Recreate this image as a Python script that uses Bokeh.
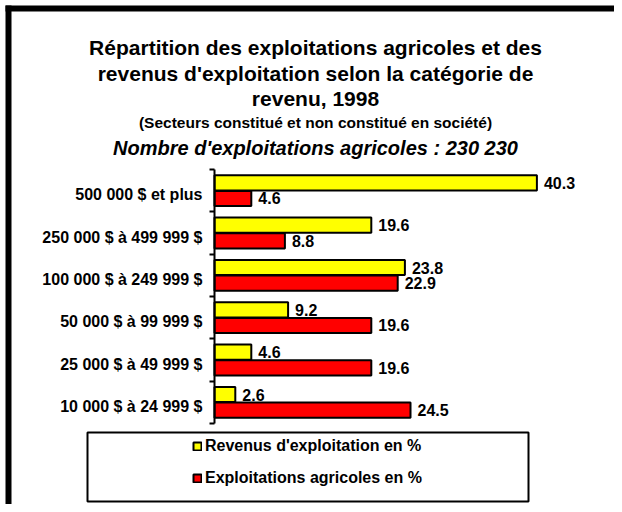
from bokeh.plotting import figure
from bokeh.models import (ColumnDataSource, Range1d, FixedTicker, Label, BoxAnnotation,
                          Legend, LegendItem, LinearAxis)
from bokeh.transform import dodge
from bokeh.core.properties import value
from bokeh.embed import file_html
from bokeh.resources import INLINE

# ---- data (top to bottom as in the chart) ----
categories = ["500 000 $ et plus", "250 000 $ à 499 999 $", "100 000 $ à 249 999 $",
              "50 000 $ à 99 999 $", "25 000 $ à 49 999 $", "10 000 $ à 24 999 $"]
revenus = [40.3, 19.6, 23.8, 9.2, 4.6, 2.6]
exploitations = [4.6, 8.8, 22.9, 19.6, 19.6, 24.5]
series_names = ["Revenus d'exploitation en %", "Exploitations agricoles en %"]
title_lines = ["Répartition des exploitations agricoles et des",
               "revenus d'exploitation selon la catégorie de",
               "revenu, 1998"]
subtitle = "(Secteurs constitué et non constitué en société)"
count_line = "Nombre d'exploitations agricoles : 230 230"

FONT = "Liberation Sans"
n = len(categories)
pos = [n - 0.5 - i for i in range(n)]

src = ColumnDataSource(dict(
    pos=pos, cat=categories, rev=revenus, exp=exploitations,
    rev_lbl=[f"{v:.1f}" for v in revenus], exp_lbl=[f"{v:.1f}" for v in exploitations],
))

# ---- geometry (canvas pixels) ----
W, HGT = 614, 504
AX_X, AX_TOP, AX_BOT = 214, 169, 423   # value axis origin and category band
PX_PER_X = 8.0
PX_PER_Y = (AX_BOT - AX_TOP) / n

def dx(px):
    return (px - AX_X) / PX_PER_X

def dy(py):
    return (AX_BOT - py) / PX_PER_Y

p = figure(width=W, height=HGT, output_backend="svg", toolbar_location=None,
           x_range=Range1d(dx(0), dx(W)), y_range=Range1d(dy(HGT), dy(0)),
           x_axis_location=None, y_axis_location=None, min_border=0)
p.outline_line_color = None
p.xgrid.visible = False
p.ygrid.visible = False
p.background_fill_color = "white"
p.border_fill_color = "white"

# ---- frame decoration: thick black top/left bars drawn as bare axis lines ----
def bar_axis(loc, bounds):
    a = LinearAxis(fixed_location=loc, bounds=bounds, ticker=FixedTicker(ticks=[]))
    a.axis_line_color = "black"
    a.axis_line_width = 6
    a.major_tick_line_color = None
    a.minor_tick_line_color = None
    a.major_label_text_alpha = 0
    return a

p.add_layout(bar_axis(dx(8), (dy(HGT), dy(5))), "left")
p.add_layout(bar_axis(dy(8), (dx(5), dx(W))), "above")

LBL_SHIFT = 4 / PX_PER_Y   # category labels sit slightly below the band centre
lbl_pos = [v - LBL_SHIFT for v in pos]
ax = LinearAxis(fixed_location=0, bounds=(0, n),
                ticker=FixedTicker(ticks=lbl_pos, minor_ticks=list(range(n + 1))))
ax.major_label_overrides = {float(v): c for v, c in zip(lbl_pos, categories)}
ax.axis_line_color = "black"
ax.axis_line_width = 2
ax.major_tick_line_color = None
ax.major_tick_out = 0
ax.major_tick_in = 0
ax.minor_tick_line_color = "black"
ax.minor_tick_line_width = 2
ax.minor_tick_out = 5
ax.minor_tick_in = 0
ax.major_label_standoff = 7
ax.major_label_text_font = FONT
ax.major_label_text_font_style = "bold"
ax.major_label_text_font_size = "16px"
ax.major_label_text_color = "black"
p.add_layout(ax, "left")

OFF = 0.185
H = 0.36
r1 = p.hbar(y=dodge("pos", OFF), left=0, right="rev", height=H, source=src,
            fill_color="#FFFF00", line_color="black", line_width=2)
r2 = p.hbar(y=dodge("pos", -OFF), left=0, right="exp", height=H, source=src,
            fill_color="#FF0000", line_color="black", line_width=2)

for col, lbl, off in (("rev", "rev_lbl", OFF), ("exp", "exp_lbl", -OFF)):
    p.text(x=col, y=dodge("pos", off), text=lbl, source=src, x_offset=7,
           text_baseline="middle", text_align="left", text_font=value(FONT),
           text_font_style="bold", text_font_size="16px", text_color="black")

# ---- titles ----
CX = 315
for t, py in zip(title_lines, [47, 73, 98]):
    p.add_layout(Label(x=dx(CX), y=dy(py), text=t, text_align="center", text_baseline="middle",
                       text_font=FONT, text_font_style="bold", text_font_size="21px",
                       text_color="black"))
p.add_layout(Label(x=dx(CX), y=dy(122), text=subtitle, text_align="center", text_baseline="middle",
                   text_font=FONT, text_font_style="bold", text_font_size="15.5px", text_color="black"))
p.add_layout(Label(x=dx(CX), y=dy(147), text=count_line, text_align="center", text_baseline="middle",
                   text_font=FONT, text_font_style="bold italic", text_font_size="20px",
                   text_color="black"))

# ---- legend ----
p.add_layout(BoxAnnotation(left=dx(87), right=dx(528), top=dy(432), bottom=dy(501),
                           fill_color=None, fill_alpha=0, line_color="black", line_alpha=1,
                           line_width=2))
legend = Legend(items=[LegendItem(label=series_names[0], renderers=[r1]),
                       LegendItem(label=series_names[1], renderers=[r2])],
                location=(192, HGT - 487), padding=0, margin=0, spacing=14,
                glyph_width=10, glyph_height=10, label_height=17, label_standoff=3,
                label_text_font=FONT, label_text_font_style="bold", label_text_font_size="16px",
                label_text_color="black", border_line_color=None, background_fill_alpha=0)
p.add_layout(legend, "center")

open("out.html", "w").write(file_html(p, INLINE))
